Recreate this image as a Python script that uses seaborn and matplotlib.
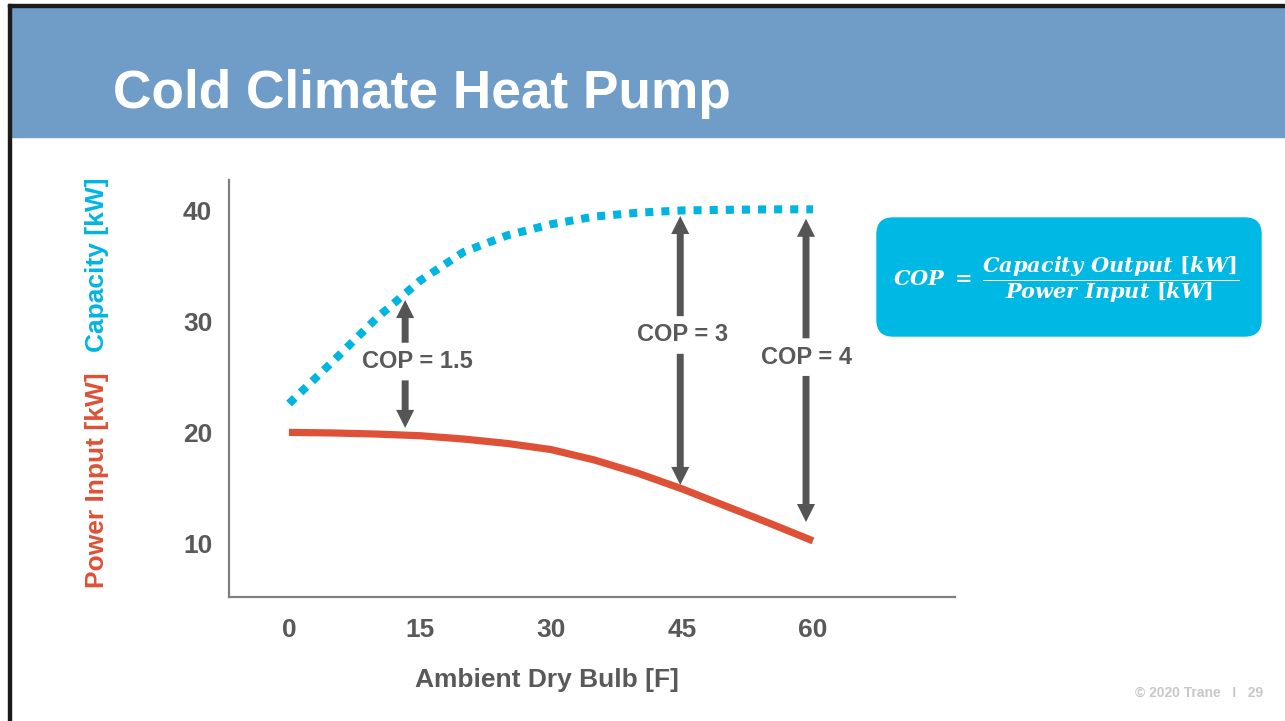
import matplotlib
matplotlib.use("Agg")
import matplotlib.pyplot as plt
from matplotlib.patches import Rectangle, FancyBboxPatch
import pandas as pd
import seaborn as sns

# values
ambient_f = [0, 5, 10, 15, 20, 25, 30, 35, 40, 45, 50, 55, 60]
capacity_kw = [22.6, 26.4, 30.3, 33.7, 36.3, 37.8, 38.8, 39.5, 39.85, 40.05, 40.1, 40.15, 40.15]
power_kw = [20.0, 19.95, 19.85, 19.7, 19.4, 19.0, 18.45, 17.5, 16.3, 14.9, 13.35, 11.8, 10.2]

x_ticks = [0, 15, 30, 45, 60]
y_ticks = [10, 20, 30, 40]

# COP call-outs: arrow x, lower tip, upper tip, label centre, label
cop_x = [13.3, 44.8, 59.2]
cop_low = [20.4, 15.25, 11.9]
cop_high = [31.96, 39.55, 39.3]
cop_text_x = [14.7, 45.1, 59.3]
cop_text_y = [26.4, 28.8, 26.8]
cop_labels = ["COP = 1.5", "COP = 3", "COP = 4"]

RED = "#DE5136"
CYAN = "#00B5E2"
GREY = "#595959"
BAND = "#6F9DC8"

sns.set_theme(style="white")
plt.rcParams["font.family"] = ["Liberation Sans", "DejaVu Sans"]
plt.rcParams["font.weight"] = "bold"
plt.rcParams["mathtext.fontset"] = "custom"
plt.rcParams["mathtext.it"] = "DejaVu Serif:italic:bold"
plt.rcParams["mathtext.rm"] = "DejaVu Serif:bold"
plt.rcParams["mathtext.bf"] = "DejaVu Serif:bold"

df = pd.DataFrame({"temp": ambient_f, "capacity": capacity_kw, "power": power_kw})

W, H = 1285, 721
fig = plt.figure(figsize=(W / 100, H / 100), dpi=100)
ax = fig.add_axes([229 / W, 1 - 597 / H, (955 - 229) / W, (597 - 180) / H])

# slide chrome
fig.patches.append(Rectangle((10 / W, 1 - 137 / H), 1, 130 / H,
                             transform=fig.transFigure, color=BAND, zorder=0))
fig.patches.append(Rectangle((8 / W, 1 - 7 / H), 1, 3 / H,
                             transform=fig.transFigure, color="#1b1b1b", zorder=1))
fig.patches.append(Rectangle((8 / W, 0), 2.5 / W, 1 - 4 / H,
                             transform=fig.transFigure, color="#1b1b1b", zorder=1))
fig.text(113 / W, 1 - 108 / H, "Cold Climate Heat Pump", color="white",
         fontsize=38.3, fontweight="bold", va="baseline", ha="left")

sns.lineplot(data=df, x="temp", y="capacity", ax=ax, color=CYAN, lw=5.8,
             linestyle=(0, (1, 1)), dash_capstyle="butt")
sns.lineplot(data=df, x="temp", y="power", ax=ax, color=RED, lw=5.2,
             solid_capstyle="butt")

arrow = dict(arrowstyle="simple,head_length=1.3,head_width=1.3,tail_width=0.5",
             mutation_scale=10, lw=0, color="#555555", shrinkA=0, shrinkB=0)
gap = 1.7
for x, lo, hi, tx, ty, lab in zip(cop_x, cop_low, cop_high, cop_text_x,
                                  cop_text_y, cop_labels):
    ax.text(tx, ty, lab, ha="center", va="center",
            fontsize=17, color=GREY, fontweight="bold")
    ax.annotate("", xy=(x, hi), xytext=(x, ty + gap), arrowprops=arrow)
    ax.annotate("", xy=(x, lo), xytext=(x, ty - gap), arrowprops=arrow)

ax.set_xlim(-6.87, 76.26)
ax.set_ylim(5.13, 42.8)
ax.set_xticks(x_ticks)
ax.set_yticks(y_ticks)
ax.tick_params(axis="both", length=0, labelsize=19, labelcolor=GREY)
ax.tick_params(axis="x", pad=15)
ax.tick_params(axis="y", pad=12)
for lab in ax.get_xticklabels() + ax.get_yticklabels():
    lab.set_fontweight("bold")
sns.despine(ax=ax)
for side in ("left", "bottom"):
    ax.spines[side].set_color("#808080")
    ax.spines[side].set_linewidth(1.6)
ax.set_xlabel("")
ax.set_ylabel("")

fig.text(547 / W, 1 - 680 / H, "Ambient Dry Bulb [F]", fontsize=19,
         fontweight="bold", color=GREY, ha="center", va="center")
fig.text(97 / W, 1 - 480 / H, "Power Input [kW]", rotation=90, color=RED,
         fontsize=19, fontweight="bold", ha="center", va="center")
fig.text(97 / W, 1 - 265 / H, "Capacity [kW]", rotation=90, color=CYAN,
         fontsize=19, fontweight="bold", ha="center", va="center")

# COP formula box
box = FancyBboxPatch((8.77, 7.21 - 3.36), 3.84, 1.18,
                     boxstyle="round,pad=0,rounding_size=0.16",
                     transform=fig.dpi_scale_trans, color="#00B8E4", zorder=2)
fig.patches.append(box)
fig.text(1066 / W, 1 - 280 / H,
         r"$COP\;=\;\dfrac{Capacity\ Output\ [kW]}{Power\ Input\ [kW]}$",
         color="white", fontsize=15, ha="center", va="center", zorder=3)

fig.text(1263 / W, 1 - 693 / H, "\u00a9 2020 Trane   I   29", color="#C8C8C8",
         fontsize=10, fontweight="bold", ha="right", va="center")

fig.savefig("out.png", dpi=100)
